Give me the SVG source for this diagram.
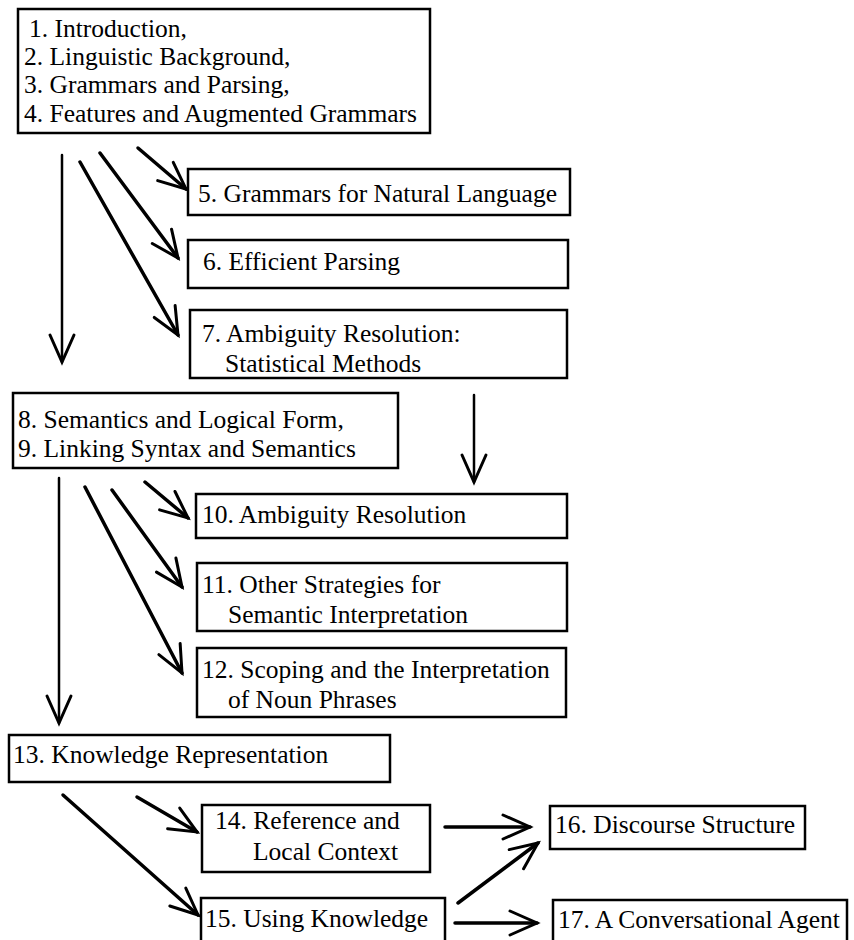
<svg xmlns="http://www.w3.org/2000/svg" width="854" height="940" viewBox="0 0 854 940">
  <style>
    .box { fill: #fff; stroke: #000; stroke-width: 2.5; }
    .lbl { font-family: "Liberation Serif", "Times New Roman", serif; font-size: 25.5px; fill: #000; }
    .edge { fill: none; stroke: #000; stroke-linecap: round; marker-end: url(#vee); }
    .thin { stroke-width: 2.5; }
    .thick { stroke-width: 3.5; }
  </style>
  <defs>
    <!-- open V arrowhead, fixed size regardless of stroke -->
    <marker id="vee" markerUnits="userSpaceOnUse" viewBox="-32 -16 36 32" refX="0" refY="0" markerWidth="36" markerHeight="32" orient="auto" overflow="visible">
      <path d="M-27,-12 L0,0 L-27,12" fill="none" stroke="#000" stroke-width="3" stroke-linejoin="miter" stroke-linecap="round"/>
    </marker>
  </defs>

  <rect width="854" height="940" fill="#fff"/>

  <g id="connectors">
    <!-- from chapters 1-4 -->
    <line class="edge thin" x1="62" y1="155" x2="62" y2="362"/>
    <line class="edge thick" x1="138" y1="148" x2="186" y2="189"/>
    <line class="edge thick" x1="100" y1="153" x2="178" y2="258"/>
    <line class="edge thick" x1="80" y1="162" x2="178" y2="335"/>
    <!-- from chapter 7 -->
    <line class="edge thin" x1="474" y1="395" x2="474" y2="482"/>
    <!-- from chapters 8-9 -->
    <line class="edge thin" x1="59" y1="478" x2="59" y2="723"/>
    <line class="edge thick" x1="145" y1="482" x2="188" y2="518"/>
    <line class="edge thick" x1="112" y1="490" x2="182" y2="587"/>
    <line class="edge thick" x1="85" y1="487" x2="182" y2="673"/>
    <!-- from chapter 13 -->
    <line class="edge thick" x1="137" y1="797" x2="197" y2="832"/>
    <line class="edge thick" x1="63" y1="795" x2="198" y2="915"/>
    <!-- to chapters 16 and 17 -->
    <line class="edge thick" x1="445" y1="827" x2="530" y2="827"/>
    <line class="edge thick" x1="458" y1="903" x2="538" y2="843"/>
    <line class="edge thick" x1="455" y1="923" x2="537" y2="923"/>
  </g>

  <g id="n1-4">
    <rect class="box" x="18" y="9" width="412" height="124"/>
    <text class="lbl" x="29" y="37">1. Introduction,</text>
    <text class="lbl" x="24" y="65">2. Linguistic Background,</text>
    <text class="lbl" x="24" y="93">3. Grammars and Parsing,</text>
    <text class="lbl" x="24" y="122">4. Features and Augmented Grammars</text>
  </g>

  <g id="n5">
    <rect class="box" x="188" y="169" width="382" height="46"/>
    <text class="lbl" x="198" y="202">5. Grammars for Natural Language</text>
  </g>

  <g id="n6">
    <rect class="box" x="188" y="240" width="380" height="48"/>
    <text class="lbl" x="203" y="270">6. Efficient Parsing</text>
  </g>

  <g id="n7">
    <rect class="box" x="190" y="310" width="377" height="68"/>
    <text class="lbl" x="202" y="342">7. Ambiguity Resolution:</text>
    <text class="lbl" x="225" y="372">Statistical Methods</text>
  </g>

  <g id="n8-9">
    <rect class="box" x="13" y="393" width="385" height="75"/>
    <text class="lbl" x="18" y="428">8. Semantics and Logical Form,</text>
    <text class="lbl" x="18" y="457">9. Linking Syntax and Semantics</text>
  </g>

  <g id="n10">
    <rect class="box" x="196" y="494" width="371" height="44"/>
    <text class="lbl" x="202" y="523">10. Ambiguity Resolution</text>
  </g>

  <g id="n11">
    <rect class="box" x="197" y="563" width="370" height="68"/>
    <text class="lbl" x="202" y="593">11. Other Strategies for</text>
    <text class="lbl" x="228" y="623">Semantic Interpretation</text>
  </g>

  <g id="n12">
    <rect class="box" x="197" y="648" width="369" height="69"/>
    <text class="lbl" x="202" y="678">12. Scoping and the Interpretation</text>
    <text class="lbl" x="228" y="708">of Noun Phrases</text>
  </g>

  <g id="n13">
    <rect class="box" x="9" y="735" width="381" height="47"/>
    <text class="lbl" x="13" y="763">13. Knowledge Representation</text>
  </g>

  <g id="n14">
    <rect class="box" x="202" y="805" width="228" height="67"/>
    <text class="lbl" x="215" y="829">14. Reference and</text>
    <text class="lbl" x="253" y="860">Local Context</text>
  </g>

  <g id="n15">
    <rect class="box" x="201" y="898" width="244" height="60"/>
    <text class="lbl" x="205" y="927">15. Using Knowledge</text>
  </g>

  <g id="n16">
    <rect class="box" x="550" y="806" width="255" height="43"/>
    <text class="lbl" x="555" y="833">16. Discourse Structure</text>
  </g>

  <g id="n17">
    <rect class="box" x="553" y="900" width="294" height="60"/>
    <text class="lbl" x="558" y="928">17. A Conversational Agent</text>
  </g>
</svg>
